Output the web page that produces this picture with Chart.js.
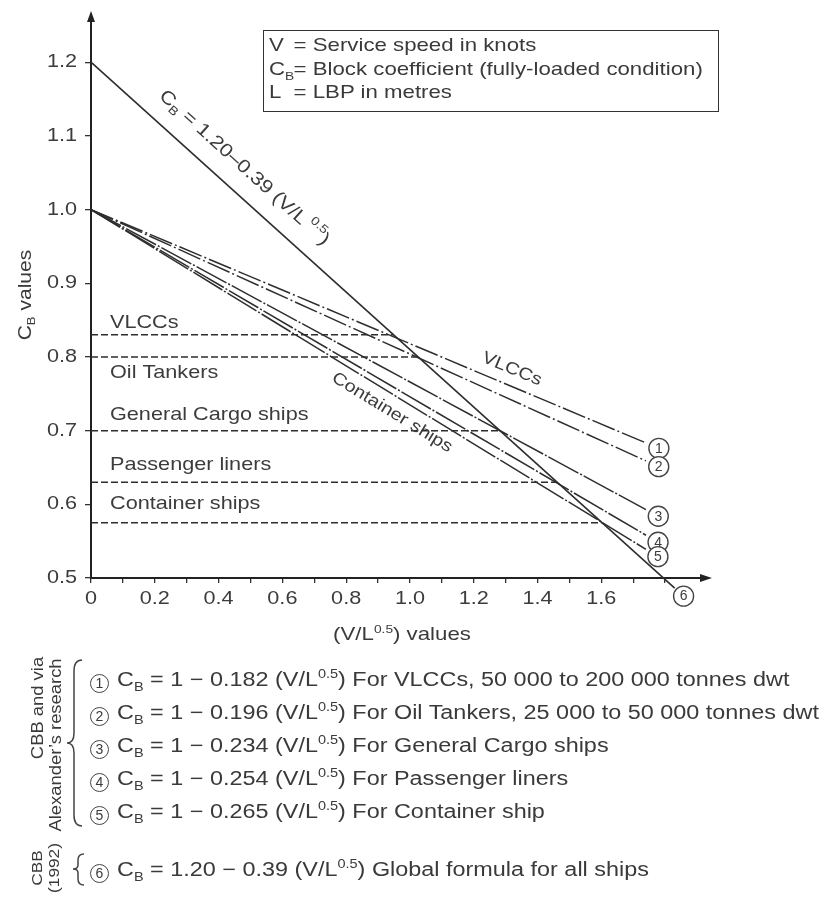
<!DOCTYPE html>
<html>
<head>
<meta charset="utf-8">
<title>Block coefficient vs V/L^0.5</title>
<script src="https://cdn.jsdelivr.net/npm/chart.js@4.4.1/dist/chart.umd.min.js"></script>
<style>
  body { margin: 0; background: #fff; font-family: "Liberation Sans", Arial, sans-serif; color: #3a3a3a; }
  #wrap { position: relative; width: 834px; height: 904px; overflow: hidden; }
  #cb-chart { position: absolute; left: 0; top: 0; }
  sub, sup { font-size: 0.62em; line-height: 0; }
  .wide { display: inline-block; transform: scaleX(1.17); transform-origin: left center; white-space: nowrap; }
  #key {
    position: absolute; left: 263px; top: 30px; width: 456px; height: 82px; box-sizing: border-box;
    border: 1.5px solid #333; padding: 2px 0 0 5px; font-size: 19px; line-height: 23.5px;
  }
  #key .sym { display: inline-block; width: 21px; }
  .axis-title { position: absolute; font-size: 19px; white-space: nowrap; }
  #x-title { transform: translate(-50%, -50%) scaleX(1.17); }
  #y-title { font-size: 18px; transform: translate(-50%, -50%) rotate(-90deg) scaleX(1.17); }
  .row { position: absolute; left: 90px; height: 24px; font-size: 20px; line-height: 24px; white-space: nowrap; }
  .num {
    display: inline-block; width: 17px; height: 17px; border: 1.4px solid #444; border-radius: 50%;
    text-align: center; line-height: 17px; font-size: 14px; margin-right: 8px; vertical-align: -2px;
  }
  .side { position: absolute; font-size: 16px; white-space: nowrap; transform: translate(-50%, -50%) rotate(-90deg) scaleX(1.15); }
  #braces { position: absolute; left: 0; top: 0; }
</style>
</head>
<body>
<div id="wrap">
  <canvas id="cb-chart" width="834" height="904"></canvas>

  <div id="key">
    <div class="wide"><span class="sym">V</span>= Service speed in knots</div><br>
    <div class="wide"><span class="sym">C<sub>B</sub></span>= Block coefficient (fully-loaded condition)</div><br>
    <div class="wide"><span class="sym">L</span>= LBP in metres</div>
  </div>

  <div class="axis-title" id="x-title" style="left:402px; top:634px">(V/L<sup>0.5</sup>) values</div>
  <div class="axis-title" id="y-title" style="left:25px; top:295px">C<sub>B</sub> values</div>

  <svg id="braces" width="834" height="904">
    <path d="M82,660 Q74,660 74,671 L74,733 Q74,743 67,743 Q74,743 74,753 L74,815 Q74,826 82,826" fill="none" stroke="#444" stroke-width="1.5"/>
    <path d="M84,854 Q78,854 78,860 L78,865 Q78,869 73,869 Q78,869 78,873 L78,879 Q78,885 84,885" fill="none" stroke="#444" stroke-width="1.5"/>
  </svg>
  <div class="side" style="left:38px; top:708px">CBB and via</div>
  <div class="side" style="left:56px; top:745px">Alexander’s research</div>
  <div class="side" style="left:36px; top:868px; font-size:15px">CBB</div>
  <div class="side" style="left:53px; top:868px; font-size:15px">(1992)</div>

  <div id="formulas"></div>
</div>

<script>
// C_B = 1 - k (V/L^0.5) for each ship type
const shipTypes = ["VLCCs", "Oil Tankers", "General Cargo ships", "Passenger liners", "Container ships"];
const shipSlopes = [0.182, 0.196, 0.234, 0.254, 0.265];
const shipNotes = [
  "For VLCCs, 50 000 to 200 000 tonnes dwt",
  "For Oil Tankers, 25 000 to 50 000 tonnes dwt",
  "For General Cargo ships",
  "For Passenger liners",
  "For Container ship",
];
// typical fully-loaded C_B of each type (dashed levels)
const shipCb = [0.83, 0.80, 0.70, 0.63, 0.575];
const shipLineEnd = 1.74;

// CBB (1992): C_B = 1.20 - 0.39 (V/L^0.5)
const globalIntercept = 1.20;
const globalSlope = 0.39;
const globalLineEnd = 1.83;

const xTicks = [0, 0.1, 0.2, 0.3, 0.4, 0.5, 0.6, 0.7, 0.8, 0.9, 1.0, 1.1, 1.2, 1.3, 1.4, 1.5, 1.6, 1.7, 1.8];
const xTickLabels = ["0", "", "0.2", "", "0.4", "", "0.6", "", "0.8", "", "1.0", "", "1.2", "", "1.4", "", "1.6", "", ""];
const yTicks = [0.5, 0.6, 0.7, 0.8, 0.9, 1.0, 1.1, 1.2];
const yTickLabels = ["0.5", "0.6", "0.7", "0.8", "0.9", "1.0", "1.1", "1.2"];

const FONT = '"Liberation Sans", Arial, sans-serif';
const INK = "#2e2e2e";
const TEXT = "#3c3c3c";
const SX = 1.17; // lettering is drawn a little wide

// formula list under the chart
const rowCentres = [679, 712, 745, 778, 811];
const formulas = document.getElementById("formulas");
shipSlopes.forEach((k, i) => {
  const row = document.createElement("div");
  row.className = "row";
  row.style.top = (rowCentres[i] - 12) + "px";
  row.innerHTML = `<span class="num">${i + 1}</span><span class="wide">C<sub>B</sub> = 1 − ${k.toFixed(3)} (V/L<sup>0.5</sup>) ${shipNotes[i]}</span>`;
  formulas.appendChild(row);
});
const globalRow = document.createElement("div");
globalRow.className = "row";
globalRow.style.top = (869 - 12) + "px";
globalRow.innerHTML = `<span class="num">6</span><span class="wide">C<sub>B</sub> = ${globalIntercept.toFixed(2)} − ${globalSlope.toFixed(2)} (V/L<sup>0.5</sup>) Global formula for all ships</span>`;
formulas.appendChild(globalRow);

// datasets
const shipLines = shipSlopes.map((k, i) => ({
  label: shipTypes[i],
  data: [{ x: 0, y: 1 }, { x: shipLineEnd, y: 1 - k * shipLineEnd }],
  borderColor: INK,
  borderWidth: 1.5,
  borderDash: i < 2 ? [24, 3, 2, 3] : [34, 2, 2, 2],
  pointRadius: 0,
}));

const globalLine = {
  label: "CBB (1992)",
  data: [{ x: 0, y: globalIntercept }, { x: globalLineEnd, y: globalIntercept - globalSlope * globalLineEnd }],
  borderColor: INK,
  borderWidth: 1.6,
  pointRadius: 0,
  clip: false,
};

// each dashed level stops where it meets the global line
const levelLines = shipCb.map((cb, i) => ({
  label: shipTypes[i] + " level",
  data: [{ x: 0, y: cb }, { x: (globalIntercept - cb) / globalSlope, y: cb }],
  borderColor: INK,
  borderWidth: 1.5,
  borderDash: [7, 3],
  pointRadius: 0,
}));

function wideText(ctx, text, px, py, align, size) {
  ctx.save();
  ctx.translate(px, py);
  ctx.scale(SX, 1);
  ctx.font = `${size}px ${FONT}`;
  ctx.textAlign = align;
  ctx.textBaseline = "middle";
  ctx.fillText(text, 0, 0);
  ctx.restore();
}

// rich text (sub/superscript parts) centred on the origin
function richText(ctx, parts, size) {
  const small = Math.round(size * 0.66);
  let w = 0;
  parts.forEach((p) => {
    ctx.font = `${p.s ? small : size}px ${FONT}`;
    p.w = ctx.measureText(p.t).width;
    w += p.w;
  });
  let cx = -w / 2;
  ctx.textAlign = "left";
  parts.forEach((p) => {
    ctx.font = `${p.s ? small : size}px ${FONT}`;
    const dy = p.s === "sub" ? size * 0.3 : p.s === "sup" ? -size * 0.4 : 0;
    ctx.fillText(p.t, cx, dy);
    cx += p.w;
  });
}

function alongLine(ctx, x, y, x0, y0, x1, y1, at, offset, parts, size) {
  const px0 = x.getPixelForValue(x0), py0 = y.getPixelForValue(y0);
  const px1 = x.getPixelForValue(x1), py1 = y.getPixelForValue(y1);
  const ang = Math.atan2(py1 - py0, px1 - px0);
  const px = x.getPixelForValue(at);
  const py = py0 + (py1 - py0) * (px - px0) / (px1 - px0);
  ctx.save();
  ctx.translate(px + Math.sin(ang) * offset, py - Math.cos(ang) * offset);
  ctx.rotate(ang);
  ctx.scale(SX, 1);
  ctx.textBaseline = "middle";
  richText(ctx, parts, size);
  ctx.restore();
}

function circledNumber(ctx, cx, cy, n) {
  ctx.beginPath();
  ctx.arc(cx, cy, 10, 0, Math.PI * 2);
  ctx.fillStyle = "#fff";
  ctx.fill();
  ctx.lineWidth = 1.4;
  ctx.strokeStyle = "#444";
  ctx.stroke();
  ctx.fillStyle = TEXT;
  ctx.font = `14px ${FONT}`;
  ctx.textAlign = "center";
  ctx.textBaseline = "middle";
  ctx.fillText(String(n), cx, cy + 0.5);
}

const levelLabelOffsets = [-12, 16, -16, -17, -19];

const annotations = {
  id: "annotations",
  afterDraw(chart) {
    const { ctx, chartArea, scales: { x, y } } = chart;
    ctx.save();

    // axis arrows
    ctx.strokeStyle = "#222";
    ctx.fillStyle = "#222";
    ctx.lineWidth = 2;
    ctx.beginPath();
    ctx.moveTo(chartArea.left, chartArea.top);
    ctx.lineTo(chartArea.left, 18);
    ctx.moveTo(chartArea.right, chartArea.bottom);
    ctx.lineTo(703, chartArea.bottom);
    ctx.stroke();
    ctx.beginPath();
    ctx.moveTo(chartArea.left, 11);
    ctx.lineTo(chartArea.left - 4, 22);
    ctx.lineTo(chartArea.left + 4, 22);
    ctx.closePath();
    ctx.fill();
    ctx.beginPath();
    ctx.moveTo(712, chartArea.bottom);
    ctx.lineTo(700, chartArea.bottom - 4);
    ctx.lineTo(700, chartArea.bottom + 4);
    ctx.closePath();
    ctx.fill();

    // tick labels
    ctx.fillStyle = TEXT;
    xTicks.forEach((v, i) => {
      if (xTickLabels[i]) wideText(ctx, xTickLabels[i], x.getPixelForValue(v), 599, "center", 18.5);
    });
    yTicks.forEach((v, i) => {
      wideText(ctx, yTickLabels[i], 77, y.getPixelForValue(v), "right", 18.5);
    });

    // type names over the dashed levels
    shipTypes.forEach((t, i) => {
      wideText(ctx, t, x.getPixelForValue(0) + 19, y.getPixelForValue(shipCb[i]) + levelLabelOffsets[i], "left", 18.5);
    });

    // labels along lines
    alongLine(ctx, x, y, 0, globalIntercept, 1.5, globalIntercept - globalSlope * 1.5, 0.43, 24,
      [{ t: "C" }, { t: "B", s: "sub" }, { t: " = 1.20–0.39 (V/L" }, { t: " 0.5", s: "sup" }, { t: ")" }], 18.5);
    alongLine(ctx, x, y, 0, 1, 1.5, 1 - shipSlopes[0] * 1.5, 1.30, 16, [{ t: "VLCCs" }], 17);
    alongLine(ctx, x, y, 0, 1, 1.5, 1 - shipSlopes[4] * 1.5, 0.97, -16, [{ t: "Container ships" }], 17);

    // numbered line ends
    shipSlopes.forEach((k, i) => {
      const ex = x.getPixelForValue(shipLineEnd), ey = y.getPixelForValue(1 - k * shipLineEnd);
      const ang = Math.atan2(ey - y.getPixelForValue(1), ex - x.getPixelForValue(0));
      circledNumber(ctx, ex + Math.cos(ang) * 14, ey + Math.sin(ang) * 14, i + 1);
    });
    const gx = x.getPixelForValue(globalLineEnd), gy = y.getPixelForValue(globalIntercept - globalSlope * globalLineEnd);
    const gang = Math.atan2(gy - y.getPixelForValue(globalIntercept), gx - x.getPixelForValue(0));
    circledNumber(ctx, gx + Math.cos(gang) * 12, gy + Math.sin(gang) * 12, 6);

    ctx.restore();
  },
};

new Chart(document.getElementById("cb-chart"), {
  type: "line",
  data: { datasets: [...levelLines, ...shipLines, globalLine] },
  options: {
    responsive: false,
    animation: false,
    events: [],
    layout: { padding: { top: 18, right: 137, left: 0, bottom: 0 } },
    plugins: { legend: { display: false }, tooltip: { enabled: false } },
    scales: {
      x: {
        type: "linear",
        min: 0,
        max: 1.9,
        afterBuildTicks: (s) => { s.ticks = xTicks.map((v) => ({ value: v })); },
        afterFit: (s) => { s.height = 904 - 578; },
        border: { color: "#222", width: 2 },
        grid: { drawOnChartArea: false, color: "#333", tickLength: 5, lineWidth: 1.3 },
        ticks: { display: false },
      },
      y: {
        type: "linear",
        min: 0.5,
        max: 1.26,
        afterBuildTicks: (s) => { s.ticks = yTicks.map((v) => ({ value: v })); },
        afterFit: (s) => { s.width = 91; },
        border: { color: "#222", width: 2 },
        grid: { drawOnChartArea: false, color: "#333", tickLength: 6, lineWidth: 1.3 },
        ticks: { display: false },
      },
    },
  },
  plugins: [annotations],
});
</script>
</body>
</html>
